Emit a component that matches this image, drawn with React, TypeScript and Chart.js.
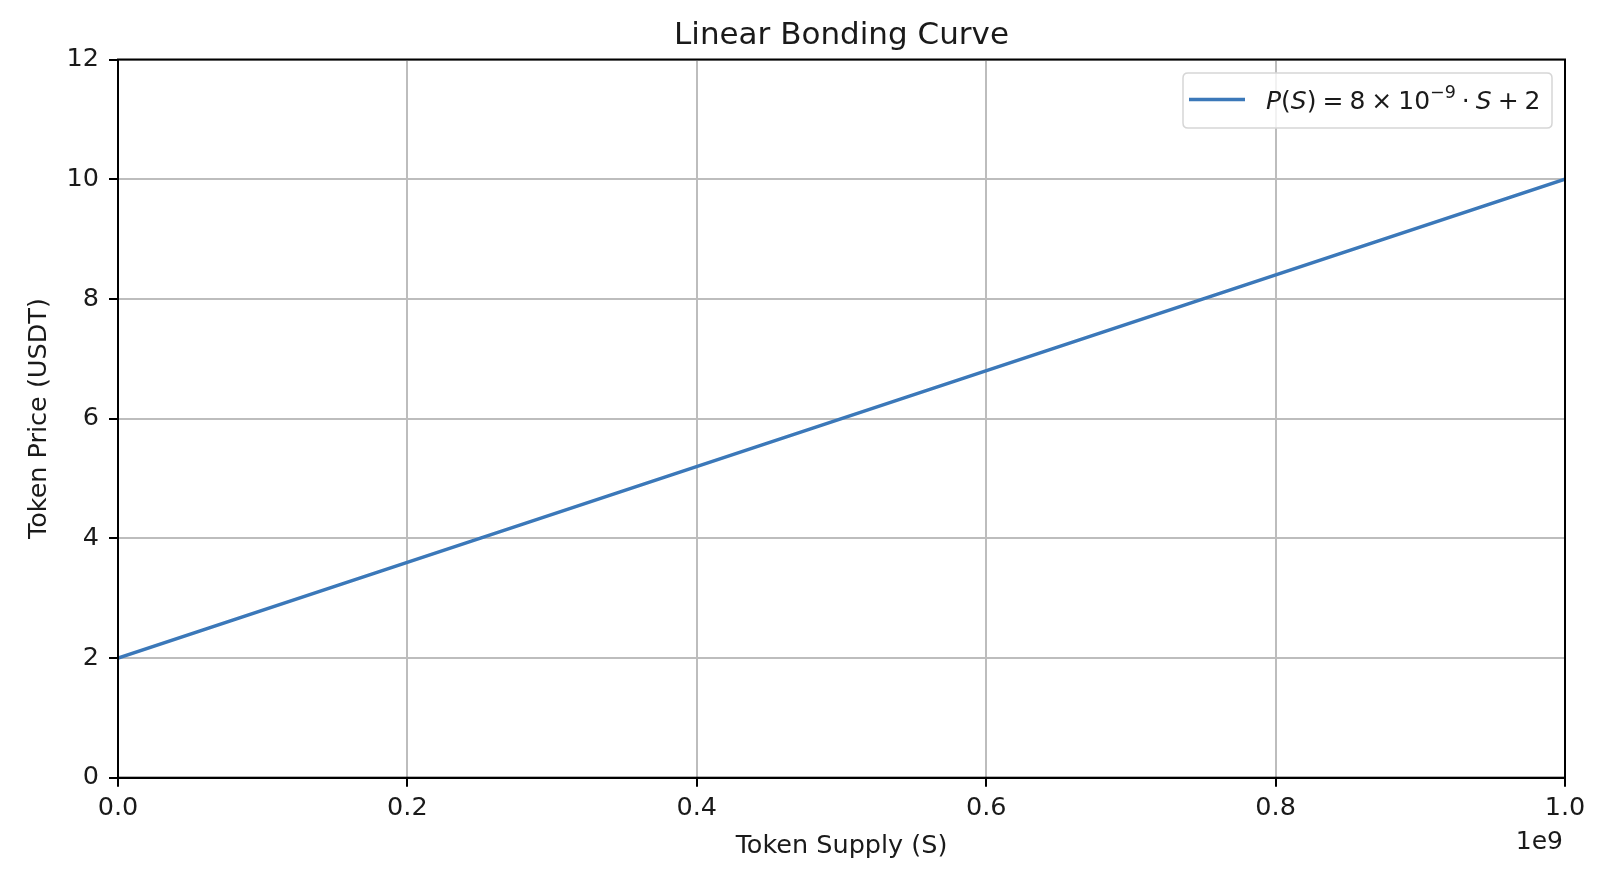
import React, { useEffect, useRef } from "react";
import { Chart, registerables } from "chart.js";

Chart.register(...registerables);

const supply = [0, 0.25e9, 0.5e9, 0.75e9, 1e9];
const price = [2, 4, 6, 8, 10];
const xTicks = [0, 0.2e9, 0.4e9, 0.6e9, 0.8e9, 1e9];
const yTicks = [0, 2, 4, 6, 8, 10, 12];

const FONT = "'DejaVu Sans', sans-serif";
const LINE_COLOR = "#3b78b9";
const TXT = "#1a1a1a";

const framePlugin = {
  id: "frame",
  afterDraw(chart: any) {
    const { ctx, chartArea } = chart;
    const { left, right, top, bottom } = chartArea;
    ctx.save();
    ctx.strokeStyle = "#000";
    ctx.lineWidth = 2;
    ctx.strokeRect(left, top, right - left, bottom - top);

    // offset text "1e9"
    ctx.fillStyle = TXT;
    ctx.font = `25px ${FONT}`;
    ctx.textAlign = "right";
    ctx.textBaseline = "middle";
    ctx.fillText("1e9", right - 2, 842);

    // legend box
    const bx = 1183, by = 73, bw = 369, bh = 55;
    ctx.beginPath();
    const r = 5;
    ctx.moveTo(bx + r, by);
    ctx.lineTo(bx + bw - r, by);
    ctx.quadraticCurveTo(bx + bw, by, bx + bw, by + r);
    ctx.lineTo(bx + bw, by + bh - r);
    ctx.quadraticCurveTo(bx + bw, by + bh, bx + bw - r, by + bh);
    ctx.lineTo(bx + r, by + bh);
    ctx.quadraticCurveTo(bx, by + bh, bx, by + bh - r);
    ctx.lineTo(bx, by + r);
    ctx.quadraticCurveTo(bx, by, bx + r, by);
    ctx.closePath();
    ctx.fillStyle = "rgba(255,255,255,0.8)";
    ctx.fill();
    ctx.strokeStyle = "#d6d6d6";
    ctx.lineWidth = 1.5;
    ctx.stroke();

    ctx.strokeStyle = LINE_COLOR;
    ctx.lineWidth = 3.5;
    ctx.beginPath();
    ctx.moveTo(1189, 99.5);
    ctx.lineTo(1245, 99.5);
    ctx.stroke();

    // math text
    const base = 109;
    let x = 1266;
    const gap = 6;
    ctx.fillStyle = TXT;
    ctx.textAlign = "left";
    ctx.textBaseline = "alphabetic";
    const seg = (t: string, italic: boolean, size = 25, dy = 0) => {
      ctx.font = `${italic ? "italic " : ""}${size}px ${FONT}`;
      ctx.fillText(t, x, base + dy);
      x += ctx.measureText(t).width;
    };
    const sp = () => {
      x += gap;
    };
    seg("P", true);
    seg("(", false);
    seg("S", true);
    seg(")", false);
    sp(); seg("=", false); sp();
    seg("8", false);
    sp(); seg("×", false); sp();
    seg("10", false);
    seg("−9", false, 17.5, -11);
    sp(); seg("·", false); sp();
    seg("S", true);
    sp(); seg("+", false); sp();
    seg("2", false);
    ctx.restore();
  },
};

export default function App() {
  const ref = useRef<HTMLCanvasElement | null>(null);

  useEffect(() => {
    document.body.style.margin = "0";
    const canvas = ref.current!;
    const chart = new Chart(canvas, {
      type: "scatter",
      data: {
        datasets: [
          {
            label: "P(S) = 8 × 10^-9 · S + 2",
            data: supply.map((s, i) => ({ x: s, y: price[i] })),
            showLine: true,
            borderColor: LINE_COLOR,
            backgroundColor: LINE_COLOR,
            borderWidth: 3.5,
            pointRadius: 0,
            tension: 0,
          },
        ],
      },
      options: {
        animation: false,
        responsive: false,
        maintainAspectRatio: false,
        layout: { padding: { left: 0, right: 35, top: 0, bottom: 0 } },
        plugins: {
          legend: { display: false },
          tooltip: { enabled: false },
          title: {
            display: true,
            fullSize: false,
            text: "Linear Bonding Curve",
            color: TXT,
            font: { family: FONT, size: 31, weight: "normal", lineHeight: 1.2 },
            padding: { top: 17, bottom: 5.3 },
          },
        },
        scales: {
          x: {
            type: "linear",
            min: 0,
            max: 1e9,
            afterFit: (s: any) => {
              s.height = 99.3;
            },
            afterBuildTicks: (s: any) => {
              s.ticks = xTicks.map((v) => ({ value: v }));
            },
            ticks: {
              color: TXT,
              font: { family: FONT, size: 25.5 },
              padding: 6,
              maxRotation: 0,
              autoSkip: false,
              callback: (v: any) => (Number(v) / 1e9).toFixed(1),
            },
            grid: {
              color: "#bdbdbd",
              lineWidth: 2,
              tickColor: "#000",
              tickLength: 9,
              tickWidth: 2,
            },
            border: { color: "#000", width: 2 },
            title: {
              display: true,
              text: "Token Supply (S)",
              color: TXT,
              font: { family: FONT, size: 25.5, lineHeight: 1.2 },
              padding: { top: 0, bottom: 15 },
            },
          },
          y: {
            type: "linear",
            min: 0,
            max: 12,
            afterFit: (s: any) => {
              s.width = 118;
            },
            afterBuildTicks: (s: any) => {
              s.ticks = yTicks.map((v) => ({ value: v }));
            },
            ticks: {
              color: TXT,
              font: { family: FONT, size: 25.5 },
              padding: 10,
              autoSkip: false,
              callback: (v: any) => String(v),
            },
            grid: {
              color: "#bdbdbd",
              lineWidth: 2,
              tickColor: "#000",
              tickLength: 9,
              tickWidth: 2,
            },
            border: { color: "#000", width: 2 },
            title: {
              display: true,
              text: "Token Price (USDT)",
              color: TXT,
              font: { family: FONT, size: 25.5, lineHeight: 1.2 },
              padding: { top: 24.5, bottom: 0 },
            },
          },
        },
      },
      plugins: [framePlugin],
    } as any);
    return () => chart.destroy();
  }, []);

  return (
    <div style={{ width: 1600, height: 877, background: "#fff" }}>
      <canvas ref={ref} width={1600} height={877} style={{ display: "block", width: 1600, height: 877 }} />
    </div>
  );
}
